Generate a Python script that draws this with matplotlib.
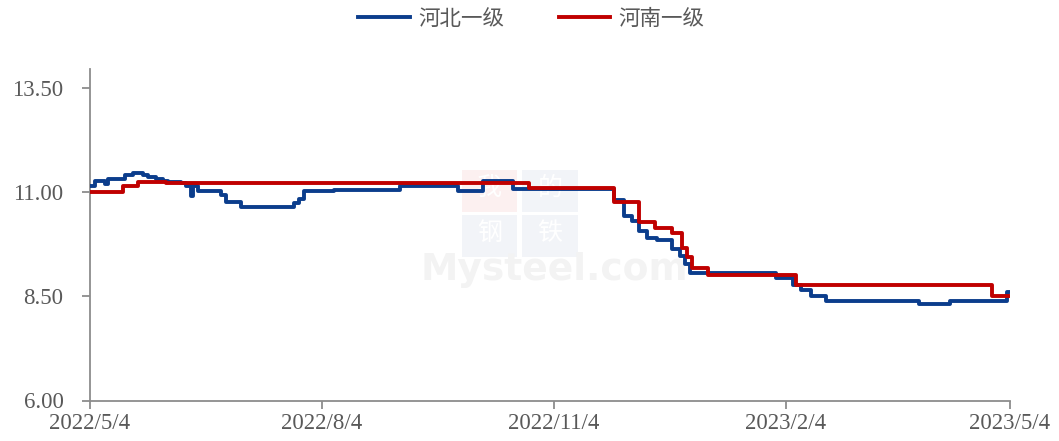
import matplotlib
matplotlib.use("Agg")
import matplotlib.pyplot as plt
from matplotlib.patches import Rectangle
import pandas as pd

# 河北一级 (blue) - price change dates and values
hebei_dates = ['2022-05-04', '2022-05-06', '2022-05-10', '2022-05-11', '2022-05-18',
               '2022-05-21', '2022-05-25', '2022-05-27', '2022-05-30', '2022-06-02',
               '2022-06-04', '2022-06-09', '2022-06-11', '2022-06-13', '2022-06-14',
               '2022-06-16', '2022-06-25', '2022-06-27', '2022-07-03', '2022-07-24',
               '2022-07-26', '2022-07-28', '2022-08-09', '2022-09-04', '2022-09-27',
               '2022-10-07', '2022-10-19', '2022-11-28', '2022-12-02', '2022-12-05',
               '2022-12-08', '2022-12-11', '2022-12-15', '2022-12-21', '2022-12-24',
               '2022-12-26', '2022-12-28', '2023-01-31', '2023-02-07', '2023-02-10',
               '2023-02-14', '2023-02-20', '2023-03-29', '2023-04-10', '2023-05-03',
               '2023-05-04']
hebei_values = [11.15, 11.26, 11.20, 11.31, 11.42,
                11.47, 11.42, 11.36, 11.33, 11.28,
                11.25, 11.23, 11.16, 10.90, 11.16,
                11.02, 10.93, 10.77, 10.65, 10.74,
                10.84, 11.02, 11.06, 11.14, 11.02,
                11.26, 11.09, 10.82, 10.44, 10.31,
                10.07, 9.91, 9.85, 9.63, 9.47,
                9.27, 9.05, 8.94, 8.78, 8.66,
                8.52, 8.40, 8.31, 8.40, 8.60,
                8.60]

# 河南一级 (red)
henan_dates = ['2022-05-04', '2022-05-17', '2022-05-23', '2022-06-03', '2022-10-25',
               '2022-11-28', '2022-12-08', '2022-12-14', '2022-12-21', '2022-12-25',
               '2022-12-27', '2022-12-29', '2023-01-04', '2023-02-08', '2023-04-27',
               '2023-05-04']
henan_values = [11.00, 11.15, 11.24, 11.22, 11.11,
                10.76, 10.28, 10.15, 10.02, 9.65,
                9.44, 9.17, 9.01, 8.77, 8.50,
                8.50]

x_ticks = ['2022-05-04', '2022-08-04', '2022-11-04', '2023-02-04', '2023-05-04']
y_ticks = [6.00, 8.50, 11.00, 13.50]

BLUE = '#0b3d8c'
RED = '#c00000'
GRAY = '#595959'
SERIF = 'Liberation Serif'
CJK = ['Noto Sans CJK SC', 'DejaVu Sans']

fig = plt.figure(figsize=(10.59, 4.41), dpi=100)
ax = fig.add_axes([90 / 1059, 40.5 / 441, 920 / 1059, 331.5 / 441])

# faint watermark
for (x0, y0, c, ch) in [(0.404, 0.569, '#fcf0f0', '我'), (0.470, 0.569, '#f2f4f8', '的'),
                        (0.404, 0.433, '#f2f4f8', '钢'), (0.470, 0.433, '#f2f4f8', '铁')]:
    ax.add_patch(Rectangle((x0, y0), 0.060, 0.127, transform=ax.transAxes,
                           facecolor=c, edgecolor='none', zorder=0))
    ax.text(x0 + 0.030, y0 + 0.072, ch, transform=ax.transAxes, ha='center', va='center',
            fontsize=18, color='white', family=CJK, zorder=0.5)
ax.text(0.505, 0.395, 'Mysteel.com', transform=ax.transAxes, ha='center', va='center',
        fontsize=27, fontweight='bold', color='#f3f3f3', family='DejaVu Sans', zorder=0.5)

hb_x = pd.to_datetime(hebei_dates)
hn_x = pd.to_datetime(henan_dates)
ax.plot(hb_x, hebei_values, drawstyle='steps-post', color=BLUE, lw=2.8,
        label='河北一级', zorder=3)
ax.plot(hn_x, henan_values, drawstyle='steps-post', color=RED, lw=2.8,
        label='河南一级', zorder=4)

xt = pd.to_datetime(x_ticks)
ax.set_xlim(xt[0], xt[-1])
ax.set_xticks(xt)
ax.set_xticklabels([f"{d.year}/{d.month}/{d.day}" for d in xt])
ax.set_ylim(6.0, 13.96)
ax.set_yticks(y_ticks)
ax.set_yticklabels([f"{v:.2f}" for v in y_ticks])

for s in ['top', 'right']:
    ax.spines[s].set_visible(False)
for s in ['left', 'bottom']:
    ax.spines[s].set_color('#8c8c8c')
    ax.spines[s].set_linewidth(1.3)
ax.tick_params(axis='both', direction='out', length=6, width=1.3, color='#8c8c8c',
               labelcolor=GRAY, labelsize=16.5)
ax.tick_params(axis='y', pad=13)
ax.tick_params(axis='x', pad=3)
for lab in ax.get_xticklabels() + ax.get_yticklabels():
    lab.set_fontfamily(SERIF)

leg = fig.legend(loc='center', bbox_to_anchor=(0.502, 0.958), ncol=2, frameon=False,
                 handlelength=2.4, handletextpad=0.4, columnspacing=2.5,
                 prop={'family': CJK, 'size': 15.5})
for t in leg.get_texts():
    t.set_color(GRAY)

fig.savefig('out.png', dpi=100)
